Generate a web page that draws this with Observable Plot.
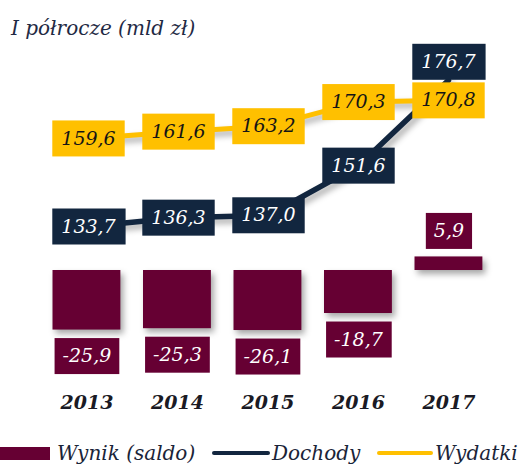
<!DOCTYPE html>
<html><head><meta charset="utf-8">
<script src="https://cdn.jsdelivr.net/npm/d3@7"></script>
<script src="https://cdn.jsdelivr.net/npm/@observablehq/plot@0.6"></script>
<style>
html,body{margin:0;padding:0;background:#fff;}
#chart{position:relative;width:524px;height:464px;overflow:hidden;font-family:"DejaVu Serif",serif;}
#chart svg{position:absolute;left:0;top:0;}
.title{position:absolute;left:11px;top:18px;font-style:italic;font-size:20px;line-height:20px;color:#1f2a44;white-space:nowrap;}
.lg{position:absolute;white-space:nowrap;}
.lgt{font-style:italic;font-size:20px;line-height:20px;top:443px;color:#1a2438;}
.shadow{filter:drop-shadow(3px 4px 3px rgba(0,0,0,0.35));}
</style></head><body>
<div id="chart"></div>
<script>
const years = ["2013","2014","2015","2016","2017"];
const wynik = [-25.9,-25.3,-26.1,-18.7,5.9];
const dochody = [133.7,136.3,137.0,151.6,176.7];
const wydatki = [159.6,161.6,163.2,170.3,170.8];
const seriesNames = ["Wynik (saldo)","Dochody","Wydatki"];
const titleText = "I półrocze (mld zł)";
const colors = {wynik:"#660033", dochody:"#12263f", wydatki:"#ffc000"};

const fmt = v => v.toFixed(1).replace(".", ",");
const rows = years.map((y,i)=>({year:y, wynik:wynik[i], dochody:dochody[i], wydatki:wydatki[i]}));
const tag = cls => (index, scales, values, dims, context, next) => {
  const g = next(index, scales, values, dims, context);
  if (g) g.classList.add(cls);
  return g;
};
const FONT = "DejaVu Serif";
const lblOpts = {fontSize:19, fontStyle:"italic", fontFamily:FONT, lineAnchor:"middle", textAnchor:"middle"};

const chart = document.getElementById("chart");

const lines = Plot.plot({
  width:524, height:260, margin:0,
  style:{background:"transparent", overflow:"visible"},
  x:{type:"point", domain:years, range:[86.5,448.5], padding:0, axis:null},
  y:{domain:[130,180], range:[238.58,68.58], axis:null},
  marks:[
    Plot.line(rows,{x:"year", y:"wydatki", stroke:colors.wydatki, strokeWidth:5, render:tag("shadow")}),
    Plot.line(rows,{x:"year", y:"dochody", stroke:colors.dochody, strokeWidth:5.5, render:tag("shadow")}),
    Plot.text(rows.slice(0,4),{x:"year", y:"dochody", text:d=>fmt(d.dochody), fill:"#ffffff", ...lblOpts, render:tag("box-navy")}),
    Plot.text(rows.slice(4),{x:"year", y:"dochody", dy:-18.5, text:d=>fmt(d.dochody), fill:"#ffffff", ...lblOpts, render:tag("box-navy")}),
    Plot.text(rows,{x:"year", y:"wydatki", text:d=>fmt(d.wydatki), fill:"#151515", ...lblOpts, render:tag("box-yellow")})
  ]
});

const bars = Plot.plot({
  width:524, height:420, marginTop:0, marginBottom:18, marginLeft:0, marginRight:0,
  style:{background:"transparent", overflow:"visible"},
  x:{type:"band", domain:years, range:[41.19,493.69], paddingInner:0.25, paddingOuter:0.125, align:0.5, round:false, axis:null},
  y:{domain:[-30,10], range:[339,247], axis:null},
  marks:[
    Plot.barY(rows,{x:"year", y:"wynik", fill:colors.wynik, render:tag("shadow")}),
    Plot.text(rows.filter(d=>d.wynik<0),{x:"year", y:"wynik", dy:26, text:d=>fmt(d.wynik), fill:"#ffffff", ...lblOpts, render:tag("box-maroon")}),
    Plot.text(rows.filter(d=>d.wynik>=0),{x:"year", y:"wynik", dy:-26, text:d=>fmt(d.wynik), fill:"#ffffff", ...lblOpts, render:tag("box-maroon")}),
    Plot.text(years,{x:d=>d, frameAnchor:"bottom", text:d=>d, fill:"#1a1a24", fontSize:19, fontWeight:"bold", fontStyle:"italic", fontFamily:FONT, lineAnchor:"middle"})
  ]
});

chart.appendChild(bars);
chart.appendChild(lines);

const title = document.createElement("div");
title.className = "title";
title.textContent = titleText;
chart.appendChild(title);

function boxify(svg, cls, fill, padX, h) {
  svg.querySelectorAll("g."+cls+" text").forEach(t=>{
    const b = t.getBBox();
    const r = document.createElementNS("http://www.w3.org/2000/svg","rect");
    r.setAttribute("x", b.x - padX);
    r.setAttribute("y", -h/2);
    r.setAttribute("width", b.width + 2*padX);
    r.setAttribute("height", h);
    r.setAttribute("fill", fill);
    const tr = t.getAttribute("transform");
    if (tr) r.setAttribute("transform", tr);
    t.parentNode.insertBefore(r, t);
  });
}
boxify(lines, "box-navy", colors.dochody, 9, 36);
boxify(lines, "box-yellow", colors.wydatki, 9, 36);
boxify(bars, "box-maroon", colors.wynik, 8, 36);

// legend
function addEl(css, text, cls) {
  const e = document.createElement("div");
  e.className = "lg " + (cls||"");
  Object.assign(e.style, css);
  if (text) e.textContent = text;
  chart.appendChild(e);
}
addEl({left:"0px", top:"447px", width:"50px", height:"13px", background:colors.wynik});
addEl({left:"57px"}, seriesNames[0], "lgt");
addEl({left:"212px", top:"451px", width:"58px", height:"4px", borderRadius:"2px", background:colors.dochody});
addEl({left:"272px"}, seriesNames[1], "lgt");
addEl({left:"377px", top:"451px", width:"56px", height:"4px", borderRadius:"2px", background:colors.wydatki});
addEl({left:"435px"}, seriesNames[2], "lgt");
</script>
</body></html>
